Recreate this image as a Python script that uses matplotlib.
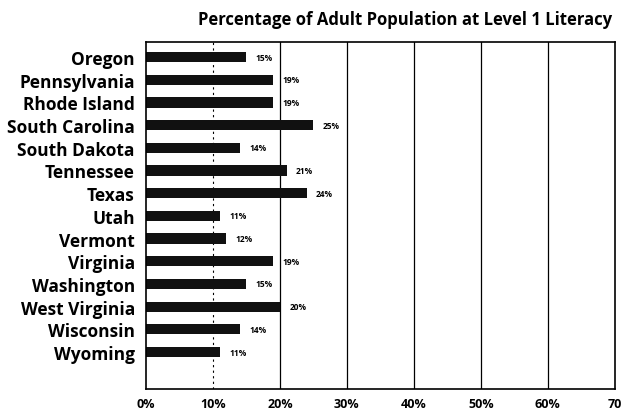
import matplotlib
matplotlib.use("Agg")
import matplotlib.pyplot as plt
import numpy as np

# data
states = ["Oregon", "Pennsylvania", "Rhode Island", "South Carolina", "South Dakota",
          "Tennessee", "Texas", "Utah", "Vermont", "Virginia", "Washington",
          "West Virginia", "Wisconsin", "Wyoming"]
pct = [15, 19, 19, 25, 14, 21, 24, 11, 12, 19, 15, 20, 14, 11]
xticks = [0, 10, 20, 30, 40, 50, 60, 70]
xtick_labels = ["0%", "10%", "20%", "30%", "40%", "50%", "60%", "70"]

plt.rcParams['font.family'] = ['Open Sans', 'DejaVu Sans']

fig = plt.figure(figsize=(6.21, 4.14), dpi=100)
ax = fig.add_axes([0.235, 0.058, 0.755, 0.838])

y = np.arange(len(states))
ax.barh(y, pct, height=0.45, color="#111111")

for yi, v in zip(y, pct):
    ax.text(v + 1.4, yi, f"{v}%", va="center", ha="left", fontsize=6, fontweight="bold")

# vertical grid lines
ax.axvline(10, color="black", lw=0.8, ls=(0, (2, 3)), zorder=0)
for gx in [20, 30, 40, 50, 60]:
    ax.axvline(gx, color="black", lw=0.9, zorder=0)

ax.set_xlim(0, 70)
ax.set_ylim(len(states) - 1 + 1.63, -0.66)
ax.set_yticks(y)
ax.set_yticklabels(states, fontsize=12.5, fontweight="bold")
ax.set_xticks(xticks)
ax.set_xticklabels(xtick_labels, fontsize=9, fontweight="bold")
ax.tick_params(length=0)
ax.tick_params(axis="y", pad=8)
ax.tick_params(axis="x", pad=6)
for s in ax.spines.values():
    s.set_linewidth(1.2)

fig.text(0.985, 0.952, "Percentage of Adult Population at Level 1 Literacy",
         ha="right", va="center", fontsize=12, fontweight="bold")

fig.savefig("out.png", dpi=100)
